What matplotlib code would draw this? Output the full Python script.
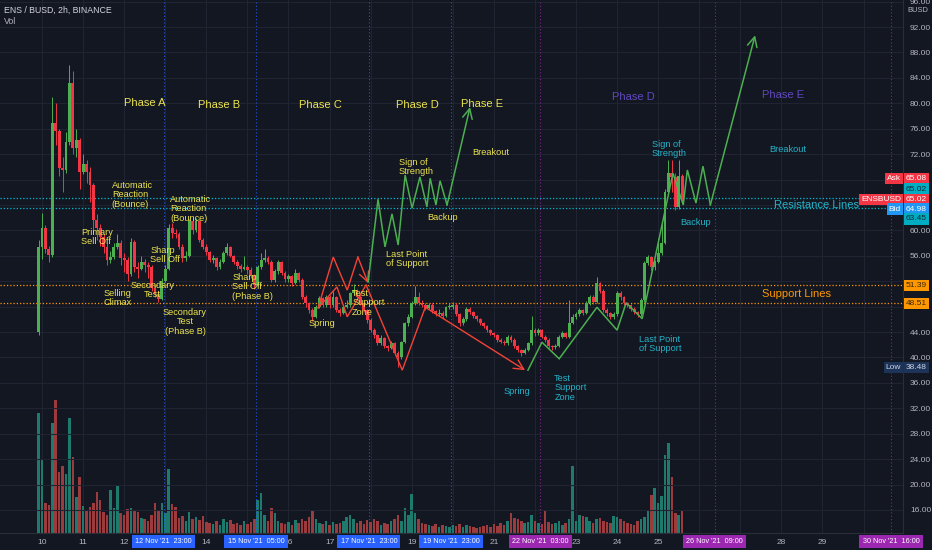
import numpy as np
import matplotlib
matplotlib.use('Agg')
import matplotlib.pyplot as plt
from matplotlib import font_manager as fm
from matplotlib.transforms import blended_transform_factory

# ---------------- data (ENS/BUSD, 2h candles, Binance) ----------------
first_open = 44.0
closes = [
    57.4, 60.4, 57.0, 56.2, 76.9, 75.7, 69.8, 69.5, 73.9, 83.2,
    73.0, 74.2, 69.2, 70.5, 69.2, 67.1, 61.6, 60.4, 59.0, 57.4,
    55.3, 55.8, 57.4, 58.0, 55.6, 55.3, 53.2, 58.2, 54.3, 54.0,
    55.0, 54.6, 54.2, 50.9, 50.0, 49.2, 52.0, 54.0, 60.4, 59.6,
    59.5, 57.4, 55.6, 56.0, 61.4, 60.0, 61.4, 58.5, 57.4, 56.6,
    55.3, 55.6, 54.2, 55.0, 56.5, 57.4, 56.0, 55.0, 54.4, 54.0,
    54.3, 53.8, 53.0, 51.4, 54.2, 55.3, 55.6, 55.0, 52.2, 53.6,
    55.0, 53.3, 52.4, 52.8, 51.7, 53.3, 52.2, 49.5, 48.6, 47.5,
    46.4, 48.0, 49.3, 48.3, 49.5, 48.2, 49.5, 47.5, 47.0, 48.0,
    48.3, 50.1, 50.6, 49.5, 48.6, 47.5, 45.9, 44.3, 43.5, 42.3,
    43.0, 41.8, 41.5, 42.3, 40.7, 40.1, 42.4, 45.4, 46.4, 48.6,
    49.5, 48.6, 48.3, 47.8, 48.3, 47.3, 46.8, 47.0, 46.5, 47.9,
    48.0, 48.3, 46.8, 45.4, 46.0, 47.6, 47.1, 46.5, 46.0, 45.4,
    44.9, 44.3, 43.8, 43.5, 42.8, 42.5, 42.3, 43.3, 42.8, 41.8,
    41.2, 40.7, 41.2, 42.3, 44.3, 43.8, 44.3, 43.3, 42.8, 41.8,
    41.6, 41.8, 43.3, 43.8, 43.3, 45.4, 46.4, 46.9, 47.5, 47.0,
    48.6, 49.5, 48.8, 51.7, 50.5, 47.5, 47.0, 46.4, 46.8, 50.1,
    49.5, 48.6, 48.3, 47.6, 47.1, 46.8, 49.0, 54.9, 55.8, 54.2,
    55.0, 56.5, 58.0, 66.0, 69.0, 68.4, 63.7, 68.5, 65.02,
]
highs = [
    58.5, 62.7, 60.8, 57.5, 81.0, 80.0, 76.0, 71.5, 75.5, 86.0,
    85.0, 76.0, 74.5, 72.0, 71.0, 70.0, 67.5, 62.5, 61.0, 59.5,
    58.0, 56.8, 58.0, 59.5, 58.5, 56.5, 55.8, 58.8, 58.5, 55.0,
    56.0, 55.5, 55.0, 54.5, 51.5, 50.5, 52.5, 54.5, 61.0, 61.2,
    60.2, 59.8, 57.8, 56.8, 61.8, 62.0, 62.0, 61.8, 58.8, 57.8,
    56.8, 56.2, 55.8, 55.5, 56.8, 58.0, 57.6, 56.2, 55.3, 54.7,
    56.0, 54.6, 54.2, 53.2, 54.6, 56.4, 57.0, 55.9, 55.3, 53.9,
    55.4, 55.2, 53.6, 53.2, 53.0, 54.0, 53.5, 52.5, 49.8, 48.8,
    47.8, 48.3, 49.7, 49.5, 49.8, 49.8, 50.5, 49.7, 47.8, 48.3,
    49.0, 50.3, 51.6, 50.8, 49.8, 48.8, 47.6, 46.2, 44.6, 43.7,
    43.6, 43.2, 42.0, 42.6, 42.5, 41.0, 42.6, 45.6, 46.8, 48.9,
    51.2, 50.3, 49.0, 48.6, 48.6, 48.5, 47.5, 47.6, 47.3, 48.1,
    48.6, 48.8, 48.5, 47.0, 46.3, 47.9, 47.9, 47.3, 46.7, 46.2,
    45.6, 45.1, 44.5, 44.0, 43.7, 43.1, 42.8, 43.6, 43.5, 43.0,
    42.0, 41.4, 41.5, 42.5, 46.5, 44.6, 44.7, 44.5, 43.5, 43.0,
    42.0, 42.1, 43.6, 44.2, 44.0, 49.0, 46.8, 47.2, 47.8, 47.7,
    48.9, 49.8, 49.8, 52.7, 51.9, 50.7, 47.8, 47.2, 47.2, 50.4,
    50.4, 49.7, 48.8, 48.4, 47.9, 47.3, 49.3, 55.2, 56.2, 56.0,
    55.3, 58.8, 61.0, 66.5, 71.0, 71.0, 69.0, 71.0, 68.9,
]
lows = [
    43.5, 55.5, 56.5, 55.0, 55.8, 73.5, 68.5, 66.0, 69.0, 73.5,
    72.0, 71.5, 66.5, 68.8, 67.5, 64.5, 59.5, 58.5, 57.5, 56.5,
    54.5, 54.8, 55.5, 57.0, 54.5, 53.5, 52.0, 52.8, 53.5, 52.5,
    53.8, 53.5, 52.5, 50.5, 49.5, 48.8, 49.0, 51.8, 53.8, 58.8,
    58.8, 57.0, 55.0, 55.2, 55.8, 59.5, 59.8, 58.2, 57.0, 56.2,
    55.0, 54.8, 53.8, 53.9, 54.8, 56.2, 55.8, 54.7, 54.0, 53.5,
    53.7, 53.2, 52.5, 50.8, 51.2, 54.0, 55.0, 54.7, 51.8, 51.9,
    53.2, 52.9, 51.9, 51.8, 51.2, 51.5, 51.9, 49.2, 48.0, 47.0,
    45.8, 46.2, 47.8, 47.9, 48.0, 47.8, 48.0, 47.2, 46.5, 46.8,
    47.8, 48.0, 49.8, 49.2, 48.2, 47.2, 45.5, 44.0, 43.0, 42.0,
    42.0, 41.5, 41.0, 41.3, 40.4, 38.48, 39.8, 42.2, 45.0, 46.2,
    48.3, 48.3, 47.9, 47.4, 47.6, 47.0, 46.5, 46.5, 46.2, 46.3,
    47.6, 47.7, 46.5, 45.0, 45.1, 45.8, 46.8, 46.2, 45.7, 45.1,
    44.6, 44.0, 43.5, 43.2, 42.5, 42.2, 41.9, 42.0, 42.5, 41.5,
    40.9, 40.3, 40.5, 41.0, 42.0, 43.4, 43.5, 43.0, 42.5, 41.5,
    41.2, 41.3, 41.6, 43.0, 43.0, 43.0, 45.2, 46.1, 46.6, 46.7,
    46.8, 48.3, 48.4, 48.6, 50.1, 47.2, 46.6, 46.0, 46.1, 46.5,
    49.0, 48.3, 48.0, 47.3, 46.8, 46.3, 46.6, 48.7, 54.5, 53.8,
    53.8, 54.8, 56.2, 57.8, 65.5, 66.0, 63.2, 63.3, 64.5,
]
volumes = [
    120, 74, 30, 28, 110, 133, 61, 67, 59, 115,
    76, 36, 56, 27, 23, 26, 30, 41, 33, 21,
    18, 43, 25, 48, 20, 18, 24, 25, 23, 21,
    15, 14, 12, 18, 30, 22, 30, 20, 64, 29,
    26, 15, 17, 12, 21, 14, 16, 13, 17, 11,
    10, 9, 12, 8, 14, 11, 13, 9, 10, 8,
    12, 9, 11, 14, 33, 40, 18, 12, 25, 20,
    12, 10, 9, 11, 8, 13, 10, 14, 12, 16,
    22, 14, 10, 9, 12, 8, 11, 9, 10, 12,
    16, 18, 14, 10, 12, 9, 13, 11, 14, 12,
    8, 10, 9, 12, 14, 18, 12, 25, 18, 39,
    20, 14, 10, 9, 8, 7, 9, 6, 8, 7,
    6, 8, 7, 9, 6, 8, 7, 6, 5, 6,
    7, 8, 6, 9, 7, 10, 8, 12, 20, 15,
    14, 12, 10, 11, 18, 12, 10, 9, 23, 11,
    9, 10, 12, 8, 10, 14, 67, 12, 18, 17,
    16, 12, 10, 14, 15, 12, 11, 10, 17, 16,
    14, 12, 10, 9, 8, 12, 14, 16, 23, 38,
    45, 30, 37, 78, 90, 56, 20, 18, 23,
]
bar_hours = 2
first_bar_hour = -2           # first candle: 9 Nov 22:00 (hours from 10 Nov 00:00)
day_labels_shown = [10, 11, 12, 14, 16, 17, 19, 21, 23, 24, 25, 28, 29]
price_ticks_shown = [16, 20, 24, 28, 32, 36, 40, 44, 56, 60, 72, 76, 80, 84, 88, 92, 96]
grid_prices = list(range(16, 100, 4))

ask, bid, last, low_price = 65.08, 64.98, 65.02, 38.48
resistance = [65.02, 63.45]
support = [51.39, 48.51]

# marked moments: (day offset from 10 Nov, label, colour key)
events = [
    (2 + 23/24, "12 Nov '21  23:00", 'blue'),
    (5 + 5/24, "15 Nov '21  05:00", 'blue'),
    (7 + 23/24, "17 Nov '21  23:00", 'blue'),
    (9 + 23/24, "19 Nov '21  23:00", 'blue'),
    (12 + 3/24, "22 Nov '21  03:00", 'purple'),
    (16 + 9/24, "26 Nov '21  09:00", 'purple'),
    (20 + 16/24, "30 Nov '21  16:00", 'purple'),
]

# drawings (day offset, price)
red_zig1 = [(6.72, 47.8), (7.09, 55.8), (7.43, 50.6), (7.69, 55.8), (7.94, 51.7)]
red_zig2 = [(6.72, 47.8), (7.18, 51.1), (7.43, 46.4), (7.86, 51.1)]
red_path = [(7.89, 51.4), (8.77, 38.0), (9.33, 47.9), (11.76, 38.0)]
green_path1 = [(7.94, 51.9), (8.18, 64.9), (8.35, 57.4), (8.52, 62.6), (8.67, 57.7),
               (8.84, 68.7), (9.01, 63.5), (9.20, 68.4), (9.37, 63.7), (9.45, 68.2),
               (9.59, 64.0), (9.69, 67.8), (9.86, 64.0), (10.42, 79.4)]
green_path2 = [(11.83, 38.0), (12.17, 42.4), (12.59, 39.8), (13.51, 47.9), (14.00, 44.3),
               (14.22, 48.6), (14.61, 46.1), (15.36, 69.0), (15.61, 64.0), (15.71, 69.5),
               (15.92, 64.3), (16.09, 70.1), (16.27, 64.0), (17.36, 90.7)]

# ---------------- style ----------------
installed = {f.name for f in fm.fontManager.ttflist}
FONT = [f for f in ['Liberation Sans Narrow', 'Liberation Sans', 'DejaVu Sans'] if f in installed]
plt.rcParams['font.family'] = FONT
BG = '#131722'
GRID = '#1f2332'
AXT = '#b2b5be'
UP = '#4caf50'
DN = '#f23645'
VUP = '#1f7a6e'
VDN = '#9c3b3d'
YEL = '#ece44e'
CYA = '#26b3c9'
PUR = '#6049bd'
ORG = '#ff9800'
EVC = {'blue': '#2962ff', 'purple': '#9c27b0'}

W, H = 932, 550
fig = plt.figure(figsize=(W / 100, H / 100), dpi=100)
fig.patch.set_facecolor(BG)
rect = [0, 17 / H, 903 / W, 533 / H]
axv = fig.add_axes(rect)
ax = fig.add_axes(rect, sharex=axv)
axv.set_facecolor(BG)
ax.set_facecolor('none')

n = len(closes)
opens = [first_open] + closes[:-1]
t = (np.arange(n) * bar_hours + first_bar_hour) / 24.0
o = np.array(opens)
c = np.array(closes)
hi = np.array(highs)
lo = np.array(lows)
up = c >= o

ax.set_xlim(-1.023, 20.96)
ax.set_ylim(12.38, 96.25)

# grid
for d in range(0, 21):
    axv.axvline(d, color=GRID, lw=0.8, zorder=0)
axv.set_ylim(0, 533)
for g in grid_prices:
    ax.axhline(g, color=GRID, lw=0.8, zorder=0)

# volume
vcol = [VUP if u else VDN for u in up]
axv.bar(t, volumes, width=0.062, color=vcol, zorder=1, linewidth=0)
axv.set_yticks([])
axv.tick_params(axis='x', which='both', length=0, labelbottom=False)
for s in axv.spines.values():
    s.set_visible(False)

# candles
ccol = [UP if u else DN for u in up]
ax.vlines(t, lo, hi, colors=ccol, lw=0.7, zorder=3)
body_lo = np.minimum(o, c)
body_h = np.maximum(np.abs(c - o), 0.15)
ax.bar(t, body_h, bottom=body_lo, width=0.07, color=ccol, zorder=4, linewidth=0)

# horizontal level lines
for r in resistance:
    ax.axhline(r, color='#00bcd4', lw=0.9, ls=(0, (1, 1.6)), zorder=2)
for s_ in support:
    ax.axhline(s_, color=ORG, lw=0.9, ls=(0, (1, 1.6)), zorder=2)

# event vertical lines
for d, lab, kind in events:
    ax.axvline(d, color=EVC[kind], lw=0.8, ls=(0, (1, 2)), alpha=0.8, zorder=2)

# drawings
def path(pts, color, arrow=False, lw=1.1):
    xs = [p[0] for p in pts]
    ys = [p[1] for p in pts]
    if arrow:
        ax.plot(xs[:-1], ys[:-1], color=color, lw=lw, zorder=5, solid_joinstyle='miter')
        ax.annotate('', xy=pts[-1], xytext=pts[-2],
                    arrowprops=dict(arrowstyle='->,head_length=0.7,head_width=0.35',
                                    color=color, lw=lw, shrinkA=0, shrinkB=0), zorder=5)
    else:
        ax.plot(xs, ys, color=color, lw=lw, zorder=5, solid_joinstyle='miter')

path(red_zig1, '#f44336', arrow=True, lw=1.0)
path(red_zig2, '#f44336', lw=1.0)
path(red_path, '#f44336', arrow=True, lw=1.0)
path(green_path1, '#4caf50', arrow=True)
path(green_path2, '#4caf50', arrow=True)

narrow = 'Liberation Sans Narrow' in FONT
TS = 7.6 if narrow else 6.6
PS = 9.0 if narrow else 8.0

# texts
def txt(x, y, s, color, size=None, ha='center'):
    ax.text(x, y, s, color=color, fontsize=size or TS, ha=ha, va='center',
            linespacing=1.05, zorder=6)

for x, y, s in [(2.51, 80.0, 'Phase A'), (4.31, 79.7, 'Phase B'), (6.79, 79.7, 'Phase C'),
                (9.13, 79.7, 'Phase D'), (10.71, 79.9, 'Phase E')]:
    txt(x, y, s, YEL, PS)
txt(14.39, 81.0, 'Phase D', PUR, PS)
txt(18.04, 81.3, 'Phase E', PUR, PS)

txt(1.70, 65.6, 'Automatic\nReaction\n(Bounce)', YEL, ha='left')
txt(0.95, 59.0, 'Primary\nSell Off', YEL, ha='left')
txt(3.12, 63.4, 'Automatic\nReaction\n(Bounce)', YEL, ha='left')
txt(2.63, 56.1, 'Sharp\nSell Off', YEL, ha='left')
txt(1.83, 49.4, 'Selling\nClimax', YEL)
txt(2.68, 50.6, 'Secondary\nTest', YEL)
txt(3.48, 45.6, 'Secondary\nTest\n(Phase B)', YEL)
txt(4.63, 51.1, 'Sharp\nSell Off\n(Phase B)', YEL, ha='left')
txt(6.82, 45.4, 'Spring', YEL)
txt(7.55, 48.6, 'Test\nSupport\nZone', YEL, ha='left')
txt(8.38, 55.5, 'Last Point\nof Support', YEL, ha='left')
txt(8.69, 70.0, 'Sign of\nStrength', YEL, ha='left')
txt(9.76, 62.1, 'Backup', YEL)
txt(10.93, 72.2, 'Breakout', YEL)

txt(14.85, 72.8, 'Sign of\nStrength', CYA, ha='left')
txt(15.92, 61.3, 'Backup', CYA)
txt(18.16, 72.8, 'Breakout', CYA)
txt(18.85, 64.0, 'Resistance Lines', CYA, PS)
txt(18.36, 50.0, 'Support Lines', ORG, PS)
txt(14.54, 42.1, 'Last Point\nof Support', CYA, ha='left')
txt(11.57, 34.7, 'Spring', CYA)
txt(12.47, 35.2, 'Test\nSupport\nZone', CYA, ha='left')

# price axis
AS = 6.6 if narrow else 6.0
ax.yaxis.tick_right()
ax.set_yticks(price_ticks_shown)
ax.set_yticklabels([f'{v:.2f}' for v in price_ticks_shown])
ax.tick_params(axis='y', length=0, pad=5, labelsize=AS, labelcolor=AXT)
ax.set_xticks([d - 10 for d in day_labels_shown])
ax.set_xticklabels([str(d) for d in day_labels_shown])
ax.tick_params(axis='x', length=0, pad=4, labelsize=AS, labelcolor=AXT)
for k, s in ax.spines.items():
    s.set_visible(k in ('right', 'bottom'))
    s.set_color('#2a2e39')
    s.set_linewidth(0.8)

# price tags
bt = blended_transform_factory(ax.transAxes, ax.transData)
def tag(ypos, s, fc, side='axis', fg='white'):
    if side == 'axis':
        ax.text(1.0 + 3 / 903, ypos, s, transform=bt, ha='left', va='center', fontsize=AS,
                color=fg, clip_on=False, zorder=10,
                bbox=dict(boxstyle='square,pad=0.25', fc=fc, ec='none'))
    else:
        ax.text(1.0 - 2 / 903, ypos, s, transform=bt, ha='right', va='center', fontsize=AS,
                color=fg, clip_on=False, zorder=10,
                bbox=dict(boxstyle='square,pad=0.25', fc=fc, ec='none'))

tag(68.1, f'{ask:.2f}', '#f23645')
tag(68.1, 'Ask', '#f23645', side='in')
tag(66.5, f'{resistance[0]:.2f}', '#00acc1', fg='#0d2b33')
tag(64.9, f'{last:.2f}', '#f23645')
tag(64.9, 'ENSBUSD', '#f23645', side='in')
tag(63.35, f'{bid:.2f}', '#2196f3')
tag(63.35, 'Bid', '#2196f3', side='in')
tag(61.8, f'{resistance[1]:.2f}', '#00acc1', fg='#0d2b33')
tag(support[0], f'{support[0]:.2f}', ORG, fg='#3a2600')
tag(support[1], f'{support[1]:.2f}', ORG, fg='#3a2600')
tag(low_price - 0.1, f'{low_price:.2f}', '#1e3358', fg='#c9d3e6')
tag(low_price - 0.1, 'Low', '#1e3358', side='in', fg='#c9d3e6')

fig.text(918 / W, 1 - 10 / H, 'BUSD', fontsize=AS - 0.6, color=AXT, ha='center', va='center')

# event date boxes on the time axis
bx = blended_transform_factory(ax.transData, ax.transAxes)
for d, lab, kind in events:
    ax.text(d, -8.5 / 533, lab, transform=bx,
            ha='center', va='center', fontsize=AS - 0.8, color='white', clip_on=False, zorder=10,
            bbox=dict(boxstyle='square,pad=0.45', fc=EVC[kind], ec='none'))

# header
fig.text(4 / W, 1 - 10 / H, 'ENS / BUSD, 2h, BINANCE', fontsize=AS + 0.3, color='#d1d4dc', ha='left', va='center')
fig.text(4 / W, 1 - 21 / H, 'Vol', fontsize=AS + 0.3, color=AXT, ha='left', va='center')

fig.savefig('out.png', dpi=100, facecolor=BG)
